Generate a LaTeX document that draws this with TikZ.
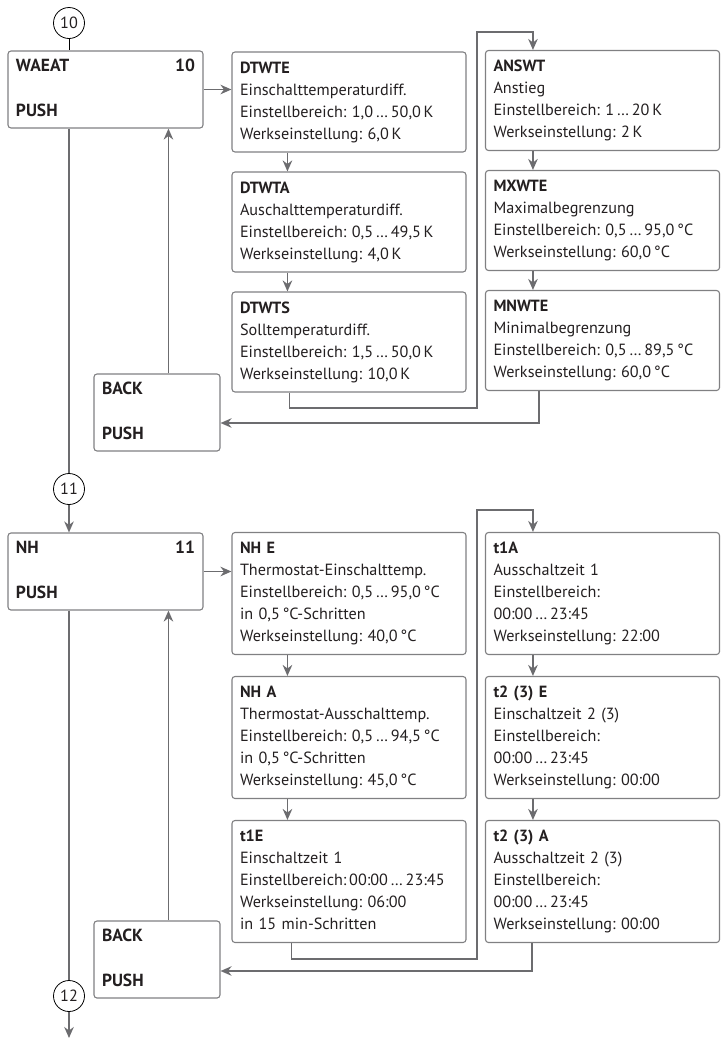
\documentclass[tikz,border=0pt]{standalone}
\usepackage{fontspec}
\setmainfont{PT Sans}
\usetikzlibrary{arrows.meta}

\definecolor{boxgray}{RGB}{128,128,130}
\definecolor{arrowgray}{RGB}{108,108,111}
\definecolor{textblack}{RGB}{35,31,32}

\tikzstyle{menu} = [rectangle, rounded corners=3pt, minimum width=195pt, minimum height=77pt, inner xsep=8pt, inner ysep=5pt, text width=179pt, align=left, draw=boxgray, line width=1.1pt, text=textblack, font=\fontsize{17.5}{22}\selectfont]
\tikzstyle{backbox} = [menu, minimum width=126pt, text width=110pt]
\tikzstyle{param} = [rectangle, rounded corners=3pt, minimum width=234pt, inner xsep=8pt, inner ysep=6pt, text width=218pt, align=left, draw=boxgray, line width=1.1pt, text=textblack]
\tikzstyle{marker} = [circle, draw=black, line width=0.8pt, minimum size=31pt, inner sep=0pt, text=textblack]
\tikzstyle{arrow} = [line width=1.9pt, draw=arrowgray, -{Stealth[length=11pt,width=9.5pt]}]
\tikzstyle{line} = [line width=1.9pt, draw=arrowgray]

\begin{document}
\begin{tikzpicture}[x=1pt, y=-1pt, node distance=120pt, font=\fontsize{16.2}{22}\selectfont\frenchspacing]
\useasboundingbox (0,0) rectangle (725,1042);

% Menue 10: WAEAT
\node (c10) [marker] at (69,23) {10};
\node (waeat) [menu] at (105.5,89.5) {\strut\textbf{WAEAT}\hskip0pt plus1fill\textbf{10}\\[23pt]\textbf{PUSH}\strut};

\node (dtwte) [param] at (349,102) {\strut\textbf{DTWTE}\\
	Einschalttemperaturdiff.\\
	Einstellbereich: 1,0\,…\,50,0\,K\\
	Werkseinstellung: 6,0\,K\strut};
\node (dtwta) [param, below of=dtwte] {\strut\textbf{DTWTA}\\
	Auschalttemperaturdiff.\\
	Einstellbereich: 0,5\,…\,49,5\,K\\
	Werkseinstellung: 4,0\,K\strut};
\node (dtwts) [param, below of=dtwta] {\strut\textbf{DTWTS}\\
	Solltemperaturdiff.\\
	Einstellbereich: 1,5\,…\,50,0\,K\\
	Werkseinstellung: 10,0\,K\strut};

\node (answt) [param] at (602.5,100.5) {\strut\textbf{ANSWT}\\
	Anstieg\\
	Einstellbereich: 1\,…\,20\,K\\
	Werkseinstellung: 2\,K\strut};
\node (mxwte) [param, below of=answt] {\strut\textbf{MXWTE}\\
	Maximalbegrenzung\\
	Einstellbereich: 0,5\,…\,95,0\,°C\\
	Werkseinstellung: 60,0\,°C\strut};
\node (mnwte) [param, below of=mxwte] {\strut\textbf{MNWTE}\\
	Minimalbegrenzung\\
	Einstellbereich: 0,5\,…\,89,5\,°C\\
	Werkseinstellung: 60,0\,°C\strut};

\node (back1) [backbox] at (157,412.5) {\strut\textbf{BACK}\\[23pt]\textbf{PUSH}\strut};

\coordinate (up1) at (477,32);

\draw [thin] (c10) -- (c10 |- waeat.north);
\draw [arrow] (waeat.east) -- (waeat.east -| dtwte.west);
\draw [arrow] ([xshift=56pt]dtwte.south west) -- ([xshift=56pt]dtwta.north west);
\draw [arrow] ([xshift=56pt]dtwta.south west) -- ([xshift=56pt]dtwts.north west);
\draw [arrow] ([xshift=58pt]dtwts.south west) -- ++(0,15) -| (up1) -| ([xshift=48pt]answt.north west);
\draw [arrow] ([xshift=48pt]answt.south west) -- ([xshift=48pt]mxwte.north west);
\draw [arrow] ([xshift=48pt]mxwte.south west) -- ([xshift=48pt]mnwte.north west);
\draw [arrow] ([xshift=54pt]mnwte.south west) |- ([yshift=-10.5pt]back1.east);
\draw [arrow] ([xshift=75pt]back1.north west) -- ([xshift=75pt]back1.north west |- waeat.south);

% Menue 11: NH
\node (c11) [marker] at (69,489) {11};
\node (nh) [menu] at (105.5,571.5) {\strut\textbf{NH}\hskip0pt plus1fill\textbf{11}\\[23pt]\textbf{PUSH}\strut};

\begin{scope}[node distance=144pt]
\node (nhe) [param] at (349,593.5) {\strut\textbf{NH E}\\
	Thermostat-Einschalttemp.\\
	Einstellbereich: 0,5\,…\,95,0\,°C\\
	in 0,5\,°C-Schritten\\
	Werkseinstellung: 40,0\,°C\strut};
\node (nha) [param, below of=nhe] {\strut\textbf{NH A}\\
	Thermostat-Ausschalttemp.\\
	Einstellbereich: 0,5\,…\,94,5\,°C\\
	in 0,5\,°C-Schritten\\
	Werkseinstellung: 45,0\,°C\strut};
\node (t1e) [param, below of=nha] {\strut\textbf{t1E}\\
	Einschaltzeit 1\\
	\mbox{Einstellbereich:\,00:00\,…\,23:45}\\
	Werkseinstellung: 06:00\\
	in 15 min-Schritten\strut};

\node (t1a) [param] at (602.5,593.5) {\strut\textbf{t1A}\\
	Ausschaltzeit 1\\
	Einstellbereich:\\
	00:00\,…\,23:45\\
	Werkseinstellung: 22:00\strut};
\node (t2e) [param, below of=t1a] {\strut\textbf{t2 (3) E}\\
	Einschaltzeit 2 (3)\\
	Einstellbereich:\\
	00:00\,…\,23:45\\
	Werkseinstellung: 00:00\strut};
\node (t2a) [param, below of=t2e] {\strut\textbf{t2 (3) A}\\
	Ausschaltzeit 2 (3)\\
	Einstellbereich:\\
	00:00\,…\,23:45\\
	Werkseinstellung: 00:00\strut};
\end{scope}

\node (back2) [backbox] at (157,959.5) {\strut\textbf{BACK}\\[23pt]\textbf{PUSH}\strut};
\node (c12) [marker] at (69,996) {12};
\coordinate (up2) at (477,510);
\coordinate (out12) at (69,1038);

\draw [line] (c10 |- waeat.south) -- (c11);
\draw [arrow] (c11) -- (c11 |- nh.north);
\draw [arrow] (nh.east) -- (nh.east -| nhe.west);
\draw [arrow] ([xshift=56pt]nhe.south west) -- ([xshift=56pt]nha.north west);
\draw [arrow] ([xshift=56pt]nha.south west) -- ([xshift=56pt]t1e.north west);
\draw [arrow] ([xshift=60pt]t1e.south west) -- ++(0,16) -| (up2) -| ([xshift=48pt]t1a.north west);
\draw [arrow] ([xshift=48pt]t1a.south west) -- ([xshift=48pt]t2e.north west);
\draw [arrow] ([xshift=48pt]t2e.south west) -- ([xshift=48pt]t2a.north west);
\draw [arrow] ([xshift=47pt]t2a.south west) |- ([yshift=-11.5pt]back2.east);
\draw [arrow] ([xshift=75pt]back2.north west) -- ([xshift=75pt]back2.north west |- nh.south);
\draw [line] (c11 |- nh.south) -- (c12);
\draw [arrow] (c12) -- (out12);

\end{tikzpicture}
\end{document}
